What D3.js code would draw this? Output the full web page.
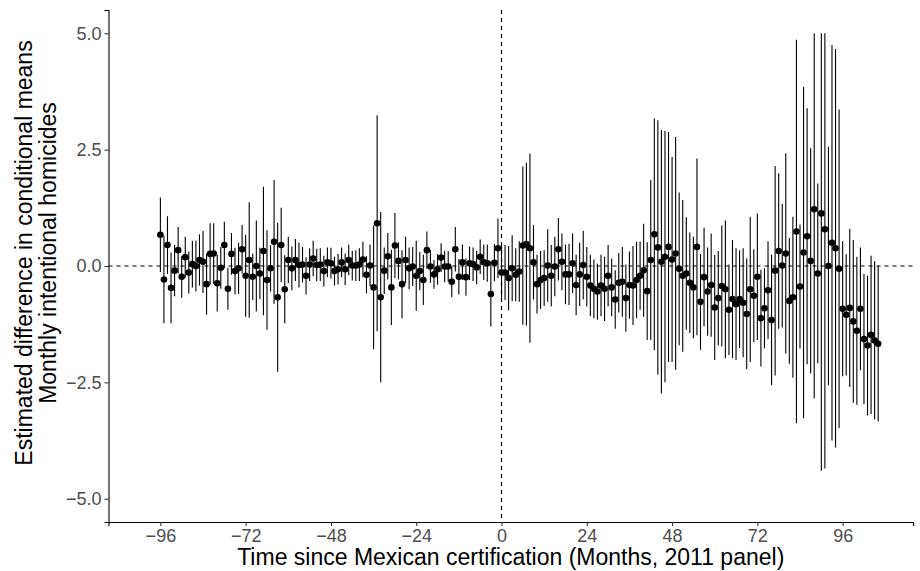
<!DOCTYPE html>
<html>
<head>
<meta charset="utf-8">
<script src="https://cdn.jsdelivr.net/npm/d3@7"></script>
<style>
  body { margin: 0; background: #fff; }
  text { font-family: "Liberation Sans", Arial, sans-serif; }
</style>
</head>
<body>
<svg id="chart" width="920" height="571"></svg>
<script>
"use strict";

// months since certification, -96 .. 106
let months = d3.range(-96, 107);

// point estimates, one per month
let estimate = [
  0.67, -0.29, 0.45, -0.47, -0.10, 0.34, -0.23, 0.19, -0.14, 0.04,
  0.00, 0.13, 0.09, -0.39, 0.26, 0.27, -0.37, -0.04, 0.45, -0.49,
  0.26, -0.11, -0.05, 0.36, -0.21, 0.13, -0.23, 0.00, -0.16, 0.32,
  -0.30, -0.05, 0.52, -0.67, 0.45, -0.50, 0.13, -0.05, 0.13, 0.02,
  0.03, -0.21, 0.03, 0.16, 0.02, 0.03, -0.11, 0.08, 0.06, -0.11,
  -0.07, 0.08, -0.07, 0.13, 0.01, 0.01, 0.03, 0.14, -0.19, 0.01,
  -0.46, 0.92, -0.67, -0.10, 0.21, -0.46, 0.44, 0.11, -0.39, 0.13,
  -0.05, -0.01, -0.21, -0.11, -0.30, 0.34, -0.01, -0.18, -0.07, 0.18,
  -0.01, -0.01, -0.34, 0.36, -0.23, 0.08, -0.24, 0.06, 0.04, -0.03,
  0.20, 0.08, 0.06, -0.60, 0.07, 0.38, -0.14,
  -0.14, -0.26, -0.05, -0.19, -0.12, 0.44, 0.47, 0.38, 0.08, -0.39,
  -0.30, -0.26, 0.01, -0.21, -0.01, 0.36, 0.09, -0.18, -0.18, 0.06,
  -0.41, -0.18, 0.02, -0.23, -0.42, -0.49, -0.55, -0.42, -0.49, -0.21,
  -0.46, -0.72, -0.36, -0.34, -0.69, -0.41, -0.42, -0.30, -0.21, -0.09,
  -0.54, 0.13, 0.68, 0.40, 0.09, 0.20, 0.41, 0.14, 0.27, -0.06,
  -0.21, -0.16, -0.36, -0.46, 0.41, -0.77, -0.24, -0.55, -0.41, -0.89,
  -0.69, -0.43, -0.50, -0.94, -0.71, -0.82, -0.71, -0.79, -1.03, -0.50,
  -0.64, -0.23, -1.12, -0.91, -0.52, -1.16, -0.10, 0.32, 0.01, 0.27,
  -0.75, -0.67, 0.74, -0.44, 0.29, 0.64, 0.11, 1.22, -0.16, 1.13,
  0.79, 0.00, 0.50, 0.38, -0.06, -0.92, -1.05, -0.90, -1.19, -1.39,
  -0.92, -1.57, -1.71, -1.48, -1.60, -1.67
];

// half width of the confidence interval, one per month
let ciHalf = [
  0.80, 0.94, 0.62, 0.76, 0.55, 0.50, 0.45, 0.44, 0.45, 0.50,
  0.55, 0.55, 0.67, 0.66, 0.66, 0.65, 0.61, 0.45, 0.50, 0.45,
  0.45, 0.50, 0.55, 0.52, 0.88, 1.24, 0.50, 0.98, 0.55, 1.38,
  1.07, 0.50, 1.33, 1.60, 0.80, 0.73, 0.50, 0.47, 0.45, 0.48,
  0.38, 0.40, 0.35, 0.38, 0.35, 0.35, 0.33, 0.32, 0.33, 0.31,
  0.33, 0.32, 0.34, 0.33, 0.32, 0.33, 0.35, 0.38, 0.40, 0.45,
  1.33, 2.32, 1.83, 0.50, 0.50, 0.81, 0.70, 0.40, 0.73, 0.50,
  0.45, 0.42, 0.75, 0.41, 0.54, 0.40, 0.35, 0.31, 0.33, 0.31,
  0.34, 0.33, 0.33, 0.48, 0.38, 0.38, 0.40, 0.36, 0.36, 0.36,
  0.37, 0.38, 0.40, 0.70, 0.40, 0.64, 0.60,
  0.59, 0.69, 0.71, 0.57, 0.65, 1.70, 1.75, 2.03, 0.80, 0.63,
  0.62, 0.60, 0.78, 0.66, 0.64, 0.67, 0.61, 0.64, 0.66, 0.64,
  0.65, 0.68, 0.74, 0.64, 0.66, 0.63, 0.60, 0.66, 0.69, 0.66,
  0.62, 0.63, 0.64, 0.75, 0.72, 0.72, 0.85, 0.82, 0.73, 1.00,
  1.05, 1.72, 2.49, 2.73, 2.83, 2.70, 2.47, 2.20, 2.50, 1.64,
  1.63, 1.21, 1.08, 1.09, 1.90, 1.03, 1.06, 0.95, 1.11, 1.13,
  1.01, 1.30, 1.48, 0.97, 1.27, 1.20, 1.05, 1.17, 1.19, 1.56,
  1.00, 1.36, 1.04, 0.86, 1.05, 1.40, 2.25, 1.67, 1.33, 2.15,
  1.35, 1.73, 4.12, 1.33, 3.56, 2.75, 2.42, 4.06, 1.93, 5.53,
  5.14, 2.56, 4.25, 4.28, 3.42, 1.45, 1.30, 1.70, 1.75, 1.59,
  1.32, 1.40, 1.50, 1.70, 1.70, 1.67
];

let xTicks = [-96, -72, -48, -24, 0, 24, 48, 72, 96];
let yTicks = [-5, -2.5, 0, 2.5, 5];

let data = months.map((m, i) => ({
  month: m,
  est: estimate[i],
  lo: Math.max(-5, estimate[i] - ciHalf[i]),
  hi: Math.min(5, estimate[i] + ciHalf[i])
}));

let width = 920;
let height = 571;
let margin = {top: 10, right: 7, bottom: 49, left: 108.5};

let svg = d3.select('#chart');

let x = d3.scaleLinear()
  .domain([-110.6, 115.8])
  .range([margin.left, width - margin.right]);

let y = d3.scaleLinear()
  .domain([-5.5, 5.5])
  .range([height - margin.bottom, margin.top]);

// reference lines
svg.append("line")
  .attr("x1", margin.left).attr("x2", width - margin.right)
  .attr("y1", y(0)).attr("y2", y(0))
  .attr("stroke", "#000").attr("stroke-width", 1.2)
  .attr("stroke-dasharray", "4,4");

svg.append("line")
  .attr("x1", x(0)).attr("x2", x(0))
  .attr("y1", margin.top).attr("y2", height - margin.bottom)
  .attr("stroke", "#000").attr("stroke-width", 1.2)
  .attr("stroke-dasharray", "4,4");

// error bars
svg.append("g").selectAll("line")
  .data(data)
  .enter()
  .append("line")
    .attr("x1", d => x(d.month))
    .attr("x2", d => x(d.month))
    .attr("y1", d => y(d.lo))
    .attr("y2", d => y(d.hi))
    .attr("stroke", "#000")
    .attr("stroke-width", 1.1);

// points
svg.append("g").selectAll("circle")
  .data(data)
  .enter()
  .append("circle")
    .attr("cx", d => x(d.month))
    .attr("cy", d => y(d.est))
    .attr("r", 3.3)
    .attr("fill", "#000");

// axes
let xAxis = svg.append("g")
  .attr("transform", `translate(0,${height - margin.bottom})`)
  .call(d3.axisBottom(x).tickValues(xTicks).tickSizeOuter(0).tickSize(4).tickPadding(3));

let yAxis = svg.append("g")
  .attr("transform", `translate(${margin.left},0)`)
  .call(d3.axisLeft(y).tickValues(yTicks).tickFormat(d3.format(".1f")).tickSizeOuter(0).tickSize(4).tickPadding(3));

[xAxis, yAxis].forEach(g => {
  g.select(".domain").attr("stroke", "#000").attr("stroke-width", 1.1);
  g.selectAll(".tick line").attr("stroke", "#333").attr("stroke-width", 1.1);
  g.selectAll(".tick text")
    .attr("fill", "#4d4d4d")
    .style("font-size", "18px")
    .style("font-family", '"Liberation Sans", Arial, sans-serif');
});

// axis titles
svg.append("text")
  .attr("x", (margin.left + width - margin.right) / 2)
  .attr("y", 565)
  .attr("text-anchor", "middle")
  .style("font-size", "23px")
  .style("fill", "#000")
  .text("Time since Mexican certification (Months, 2011 panel)");

let yTitle = svg.append("text")
  .attr("transform", "translate(31.5,253)rotate(-90)")
  .attr("text-anchor", "middle")
  .style("font-size", "23px")
  .style("fill", "#000");
yTitle.append("tspan").attr("x", 0).attr("dy", 0).text("Estimated difference in conditional means");
yTitle.append("tspan").attr("x", 0).attr("dy", 24).text("Monthly intentional homicides");
</script>
</body>
</html>
